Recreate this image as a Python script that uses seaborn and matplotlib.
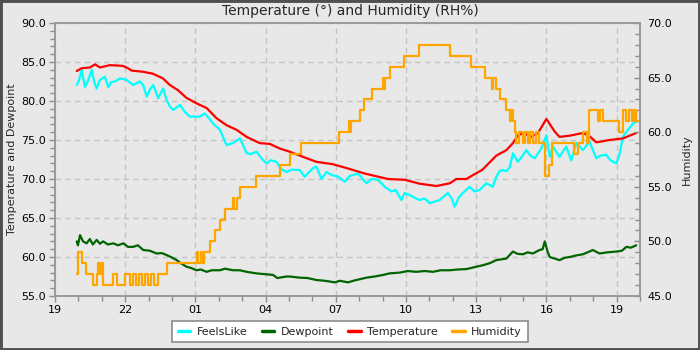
import matplotlib
matplotlib.use("Agg")
import matplotlib.pyplot as plt
from matplotlib.ticker import MultipleLocator, FormatStrFormatter, FixedLocator
from matplotlib.patches import Rectangle
from matplotlib.lines import Line2D
import seaborn as sns
import pandas as pd

# ---------------- data (hours after 19:00) ----------------
x_tick_pos = [0, 3, 6, 9, 12, 15, 18, 21, 24]
x_tick_labels = ["19", "22", "01", "04", "07", "10", "13", "16", "19"]

temp_t = [0.93, 1.14, 1.50, 1.71, 1.92, 2.35, 2.90, 3.12, 3.27, 3.76, 4.18, 4.61, 4.91,
          5.25, 5.62, 6.05, 6.48, 6.90, 7.33, 7.76, 8.19, 8.75, 9.18, 9.61, 10.03,
          10.46, 11.17, 11.87, 12.46, 13.24, 13.66, 14.23, 14.94, 15.58, 16.30, 16.87,
          17.15, 17.58, 17.86, 18.27, 18.86, 19.29, 19.57, 19.78, 20.00, 20.35, 20.64,
          21.00, 21.35, 21.56, 21.99, 22.56, 22.84, 23.13, 23.70, 24.27, 24.55, 24.84]
temp_v = [83.85, 84.2, 84.3, 84.7, 84.3, 84.6, 84.5, 84.2, 83.9, 83.75, 83.5, 82.9, 82.05,
          81.4, 80.4, 79.7, 79.1, 77.8, 76.9, 76.3, 75.4, 74.6, 74.5, 73.9, 73.5,
          73.0, 72.2, 71.9, 71.4, 70.7, 70.4, 70.0, 69.9, 69.4, 69.1, 69.45,
          70.0, 70.0, 70.5, 71.2, 73.0, 73.7, 74.6, 75.6, 75.9, 75.4, 75.9,
          77.7, 76.1, 75.4, 75.55, 75.9, 75.5, 74.7, 75.0, 75.2, 75.55, 75.9]

feels_t = [0.93, 1.02, 1.14, 1.28, 1.41, 1.57, 1.67, 1.78, 1.92, 2.13, 2.28, 2.39, 2.56,
           2.78, 3.06, 3.34, 3.63, 3.77, 3.92, 4.06, 4.20, 4.41, 4.62, 4.77, 4.91, 5.05,
           5.34, 5.55, 5.76, 6.19, 6.40, 6.58, 6.76, 7.05, 7.33, 7.61, 7.90, 8.03, 8.19,
           8.37, 8.61, 8.84, 9.04, 9.22, 9.47, 9.65, 9.89, 10.12, 10.46, 10.67, 11.03,
           11.17, 11.39, 11.60, 11.83, 12.10, 12.38, 12.60, 12.95, 13.31, 13.54, 13.80,
           14.09, 14.38, 14.56, 14.80, 14.94, 15.16, 15.37, 15.58, 15.80, 16.01, 16.44,
           16.79, 16.95, 17.08, 17.25, 17.43, 17.72, 17.93, 18.15, 18.43, 18.71, 18.86,
           19.00, 19.14, 19.29, 19.43, 19.57, 19.78, 19.94, 20.14, 20.32, 20.50, 20.78,
           21.00, 21.14, 21.28, 21.56, 21.85, 22.06, 22.28, 22.56, 22.84, 23.13, 23.31,
           23.56, 23.74, 23.99, 24.12, 24.27, 24.48, 24.70, 24.84]
feels_v = [82.05, 82.6, 84.0, 81.8, 82.6, 84.0, 82.5, 81.6, 82.7, 83.1, 81.75, 82.4, 82.5,
           82.9, 82.7, 82.05, 82.5, 82.05, 80.55, 81.5, 82.05, 80.35, 81.6, 80.1, 79.3, 78.85,
           79.5, 78.6, 78.0, 78.0, 78.4, 77.8, 77.1, 76.3, 74.35, 74.6, 75.2, 74.4, 73.3,
           73.2, 73.5, 72.6, 72.0, 72.4, 72.2, 71.3, 70.9, 71.2, 71.15, 70.3, 71.4,
           71.6, 70.0, 70.9, 70.5, 70.3, 69.65, 70.4, 70.7, 69.45, 70.0, 69.9,
           69.0, 68.4, 68.6, 67.3, 68.2, 67.95, 67.6, 67.3, 67.5, 66.9, 67.3,
           68.2, 67.5, 66.45, 67.6, 68.2, 69.0, 68.4, 68.6, 69.45, 69.0, 70.3,
           71.0, 71.15, 71.0, 71.5, 73.3, 72.2, 72.8, 73.7, 73.0, 72.65, 73.9,
           75.6, 72.85, 74.15, 72.85, 74.15, 72.4, 74.6, 73.7, 74.8, 72.65, 73.0,
           73.1, 72.4, 72.0, 73.1, 75.4, 76.3, 77.1, 77.35]

dew_t = [0.93, 0.98, 1.07, 1.20, 1.35, 1.49, 1.62, 1.78, 1.92, 2.06, 2.26, 2.49, 2.69,
         2.92, 3.12, 3.34, 3.54, 3.77, 4.06, 4.34, 4.57, 4.77, 4.95, 5.20, 5.38, 5.62,
         5.81, 6.05, 6.23, 6.48, 6.70, 7.05, 7.26, 7.61, 7.90, 8.19, 8.61, 8.97, 9.32,
         9.50, 9.89, 10.03, 10.46, 10.80, 11.17, 11.53, 11.75, 11.96, 12.17, 12.52, 12.81,
         13.31, 13.66, 14.02, 14.30, 14.73, 15.07, 15.44, 15.80, 16.15, 16.48, 16.87,
         17.21, 17.58, 17.93, 18.29, 18.57, 18.86, 19.29, 19.57, 19.77, 20.00, 20.20,
         20.42, 20.71, 20.84, 20.93, 21.05, 21.14, 21.35, 21.56, 21.78, 22.00, 22.27,
         22.56, 22.84, 22.98, 23.27, 23.61, 23.99, 24.22, 24.42, 24.61, 24.84]
dew_v = [62.0, 61.5, 62.8, 62.0, 61.75, 62.3, 61.6, 62.2, 61.7, 62.0, 61.6, 61.75, 61.5,
         61.75, 61.3, 61.3, 61.5, 60.9, 60.8, 60.45, 60.5, 60.25, 60.0, 59.6, 59.2, 58.75,
         58.6, 58.3, 58.4, 58.1, 58.3, 58.3, 58.5, 58.3, 58.3, 58.1, 57.9, 57.8, 57.7,
         57.3, 57.5, 57.5, 57.35, 57.3, 57.05, 56.95, 56.85, 56.75, 56.95, 56.75, 57.0,
         57.35, 57.5, 57.7, 57.9, 58.0, 58.2, 58.1, 58.2, 58.1, 58.3, 58.3,
         58.4, 58.45, 58.7, 58.95, 59.2, 59.6, 59.8, 60.7, 60.4, 60.35, 60.6,
         60.45, 60.9, 61.0, 62.0, 60.7, 60.0, 59.8, 59.6, 59.9, 60.0, 60.2,
         60.35, 60.7, 60.9, 60.45, 60.6, 60.7, 60.8, 61.3, 61.2, 61.5]

hum_t = [0.93, 0.97, 1.14, 1.31, 1.61, 1.78, 1.85, 1.92, 1.99, 2.06, 2.49, 2.63, 2.99,
         3.20, 3.33, 3.46, 3.59, 3.71, 3.84, 3.97, 4.10, 4.23, 4.41, 4.77, 6.05, 6.10,
         6.23, 6.28, 6.36, 6.62, 6.83, 7.05, 7.26, 7.61, 7.66, 7.76, 7.90, 8.61, 9.61,
         10.03, 10.50, 12.13, 12.55, 12.60, 12.66, 13.02, 13.19, 13.55, 14.01, 14.05,
         14.09, 14.30, 14.90, 15.54, 16.87, 17.76, 18.36, 18.66, 18.70, 18.86, 19.00,
         19.29, 19.43, 19.49, 19.57, 19.64, 19.71, 19.81, 19.98, 20.07, 20.20, 20.32,
         20.41, 20.54, 20.67, 20.94, 21.10, 21.25, 22.20, 22.33, 22.56, 22.72, 22.84,
         23.19, 23.27, 23.41, 24.12, 24.27, 24.42, 24.51, 24.66, 24.74, 24.84]
hum_v = [47, 49, 48, 47, 46, 47, 48, 47, 48, 46, 47, 46, 47,
         46, 47, 46, 47, 46, 47, 46, 47, 46, 47, 48, 49, 48,
         49, 48, 49, 50, 51, 52, 53, 54, 53, 54, 55, 56, 57,
         58, 59, 60, 61, 60, 61, 62, 63, 64, 65, 64,
         65, 66, 67, 68, 67, 66, 65, 64, 65, 64, 63,
         62, 61, 62, 61, 60, 59, 60, 59, 60, 59, 60,
         59, 60, 59, 56, 57, 59, 58, 59, 60, 59, 62,
         61, 62, 61, 60, 62, 61, 62, 61, 62, 61]

series_names = ["FeelsLike", "Dewpoint", "Temperature", "Humidity"]
series_colors = ["#00ffff", "#006400", "#ff0000", "#ffa500"]

# ---------------- style ----------------
sns.set_style("ticks")
plt.rcParams["font.family"] = ["DejaVu Sans"]
BG = "#e8e8e8"

fig = plt.figure(figsize=(7, 3.5), dpi=100, facecolor=BG)
ax = fig.add_axes([55 / 700, 54 / 350, 585 / 700, 273 / 350])
ax.set_facecolor(BG)
ax2 = ax.twinx()
ax2.set_facecolor("none")

lw = 1.6
sns.lineplot(x=feels_t, y=feels_v, ax=ax, color=series_colors[0], lw=lw, legend=False)
sns.lineplot(x=dew_t, y=dew_v, ax=ax, color=series_colors[1], lw=lw, legend=False)
sns.lineplot(x=temp_t, y=temp_v, ax=ax, color=series_colors[2], lw=lw, legend=False)
hum_t_ext = hum_t + [24.92]
hum_v_ext = hum_v + [hum_v[-1]]
sns.lineplot(x=hum_t_ext, y=hum_v_ext, ax=ax2, color=series_colors[3], lw=lw,
             drawstyle="steps-post", legend=False)

ax.set_xlim(0, 25)
ax.set_ylim(55, 90)
ax2.set_ylim(45, 70)

ax.xaxis.set_major_locator(FixedLocator(x_tick_pos))
ax.set_xticklabels(x_tick_labels)
ax.xaxis.set_minor_locator(MultipleLocator(1))
ax.yaxis.set_major_locator(MultipleLocator(5))
ax.yaxis.set_minor_locator(MultipleLocator(1))
ax.yaxis.set_major_formatter(FormatStrFormatter("%.1f"))
ax2.yaxis.set_major_locator(MultipleLocator(5))
ax2.yaxis.set_minor_locator(MultipleLocator(1))
ax2.yaxis.set_major_formatter(FormatStrFormatter("%.1f"))

tick_col = "#8c8c8c"
ax.tick_params(axis="both", which="major", length=4.5, width=1, color=tick_col,
               labelsize=8, labelcolor="black", direction="out", pad=2)
ax.tick_params(axis="both", which="minor", length=3.5, width=1, color=tick_col,
               direction="out")
ax2.tick_params(axis="y", which="major", length=4.5, width=1, color=tick_col,
                labelsize=8, labelcolor="black", direction="in", pad=5)
ax2.tick_params(axis="y", which="minor", length=3.5, width=1, color=tick_col,
                direction="in")

for a in (ax, ax2):
    for s in a.spines.values():
        s.set_color("#9a9a9a")
        s.set_linewidth(1.2)
        s.set_visible(True)

ax.grid(True, which="major", linestyle=(0, (4, 3)), color="#c4c4c4", lw=1)
ax.set_axisbelow(True)

ax.set_ylabel("Temperature and Dewpoint", fontsize=8)
ax.yaxis.set_label_coords(-0.065, 0.5)
ax2.set_ylabel("Humidity", fontsize=8, rotation=90)
ax2.yaxis.set_label_coords(1.072, 0.5)
ax.set_xlabel("")

fig.text(0.5, 1 - 11 / 350, "Temperature (°) and Humidity (RH%)", ha="center",
         va="center", fontsize=10)

handles = [Line2D([0], [0], color=c, lw=2.5) for c in series_colors]
leg = fig.legend(handles, series_names, loc="lower center",
                 bbox_to_anchor=(0.5, 2 / 350), ncol=4, frameon=True,
                 fancybox=False, edgecolor="#8c8c8c", facecolor="white",
                 framealpha=1, fontsize=8, handlelength=1.1, columnspacing=1.3,
                 borderpad=0.5, handletextpad=0.6)
leg.get_frame().set_linewidth(1.2)

fig.patches.append(Rectangle((0, 0), 1, 1, transform=fig.transFigure, fill=False,
                             edgecolor="#4f4f4f", lw=3.5, zorder=10))

fig.savefig("out.png", dpi=100, facecolor=BG)
